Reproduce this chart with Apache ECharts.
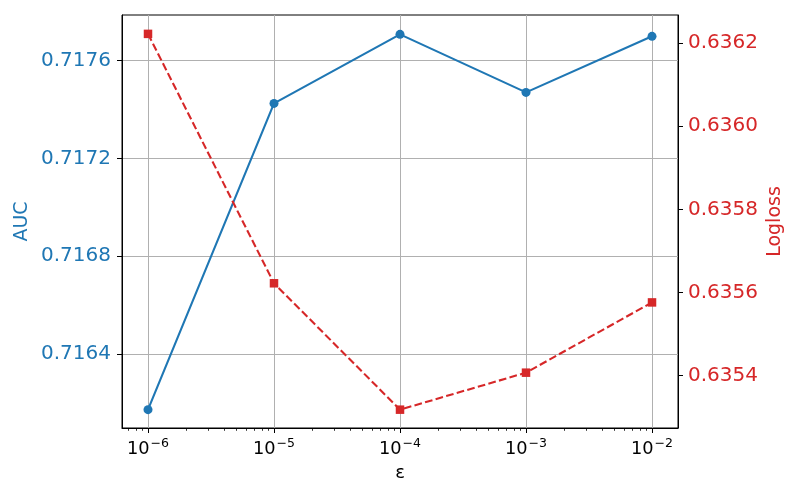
<!DOCTYPE html>
<html>
<head>
<meta charset="utf-8">
<script src="https://cdn.jsdelivr.net/npm/echarts@6/dist/echarts.min.js"></script>
<style>html,body{margin:0;padding:0;background:#fff}#c{width:800px;height:500px}</style>
</head>
<body>
<div id="c"></div>
<script>
var eps = [1e-6, 1e-5, 1e-4, 1e-3, 1e-2];
var auc = [0.716174, 0.717424, 0.717706, 0.717469, 0.717698];
var logloss = [0.636222, 0.635622, 0.635318, 0.635407, 0.635576];
var xMajorTicks = [1e-6, 1e-5, 1e-4, 1e-3, 1e-2];
var aucTicks = [0.7164, 0.7168, 0.7172, 0.7176];
var loglossTicks = [0.6354, 0.6356, 0.6358, 0.6360, 0.6362];

var xMinorTicks = [];
[-7, -6, -5, -4, -3, -2].forEach(function (e) {
  for (var m = 2; m <= 9; m++) {
    var v = m * Math.pow(10, e);
    if (v > 6.218e-7 && v < 0.016078) xMinorTicks.push(v);
  }
});

var BLUE = '#1f77b4', RED = '#d62728';
var FONT = 'DejaVu Sans';

var chart = echarts.init(document.getElementById('c'));
chart.setOption({
  animation: false,
  textStyle: { fontFamily: FONT },
  grid: { left: 122, right: 122, top: 15, bottom: 72, show: true, borderColor: '#000', borderWidth: 1, backgroundColor: 'transparent' },
  xAxis: [{
    type: 'log', logBase: 10, min: 6.218e-7, max: 0.016078, position: 'bottom',
    name: 'ε', nameLocation: 'middle', nameGap: 36, nameMoveOverlap: false,
    nameTextStyle: { fontSize: 18, color: '#000', fontFamily: FONT },
    axisLine: { show: true, lineStyle: { color: '#000', width: 1 } },
    axisTick: { show: true, inside: false, length: 5, customValues: xMajorTicks, lineStyle: { color: '#000', width: 1 } },
    axisLabel: {
      customValues: xMajorTicks, margin: 9, color: '#000',
      formatter: function (v) {
        var e = Math.round(Math.log10(v));
        return '{b|10}{s|\u2212' + Math.abs(e) + '}';
      },
      rich: {
        b: { fontSize: 17.8, fontFamily: FONT, color: '#000', verticalAlign: 'bottom' },
        s: { fontSize: 12.5, fontFamily: FONT, color: '#000', padding: [0, 0, 8, 1], verticalAlign: 'bottom' }
      }
    },
    splitLine: { show: true, lineStyle: { color: '#b0b0b0', width: 1 } }
  }, {
    type: 'log', logBase: 10, min: 6.218e-7, max: 0.016078, position: 'bottom',
    axisLine: { show: false },
    axisTick: { show: true, inside: false, length: 2.8, customValues: xMinorTicks, lineStyle: { color: '#000', width: 0.8 } },
    axisLabel: { show: false },
    splitLine: { show: false }
  }],
  yAxis: [{
    type: 'value', min: 0.716099, max: 0.717785, position: 'left',
    name: 'AUC', nameLocation: 'middle', nameGap: 90, nameRotate: 90, nameMoveOverlap: false,
    nameTextStyle: { fontSize: 19, color: BLUE, fontFamily: FONT },
    axisLine: { show: true, lineStyle: { color: '#000', width: 1 } },
    axisTick: { show: true, inside: false, length: 5, customValues: aucTicks, lineStyle: { color: '#000', width: 1 } },
    axisLabel: { customValues: aucTicks, margin: 11, fontSize: 20, color: BLUE, fontFamily: FONT, formatter: function (v) { return v.toFixed(4); } },
    splitLine: { show: true, lineStyle: { color: '#b0b0b0', width: 1 } }
  }, {
    type: 'value', min: 0.6352739, max: 0.6362674, position: 'right',
    name: 'Logloss', nameLocation: 'middle', nameGap: 88, nameRotate: 90, nameMoveOverlap: false,
    nameTextStyle: { fontSize: 19, color: RED, fontFamily: FONT },
    axisLine: { show: true, lineStyle: { color: '#000', width: 1 } },
    axisTick: { show: true, inside: false, length: 5, customValues: loglossTicks, lineStyle: { color: '#000', width: 1 } },
    axisLabel: { customValues: loglossTicks, margin: 10, fontSize: 20, color: RED, fontFamily: FONT, formatter: function (v) { return v.toFixed(4); } },
    splitLine: { show: false }
  }],
  series: [{
    type: 'line', name: 'AUC', xAxisIndex: 0, yAxisIndex: 0,
    data: eps.map(function (x, i) { return [x, auc[i]]; }),
    symbol: 'circle', symbolSize: 9, showAllSymbol: true,
    lineStyle: { color: BLUE, width: 2.1 }, itemStyle: { color: BLUE }
  }, {
    type: 'line', name: 'Logloss', xAxisIndex: 0, yAxisIndex: 1,
    data: eps.map(function (x, i) { return [x, logloss[i]]; }),
    symbol: 'rect', symbolSize: 8.5, showAllSymbol: true,
    lineStyle: { color: RED, width: 2.1, type: [7.7, 3.3] }, itemStyle: { color: RED }
  }]
});
</script>
</body>
</html>
